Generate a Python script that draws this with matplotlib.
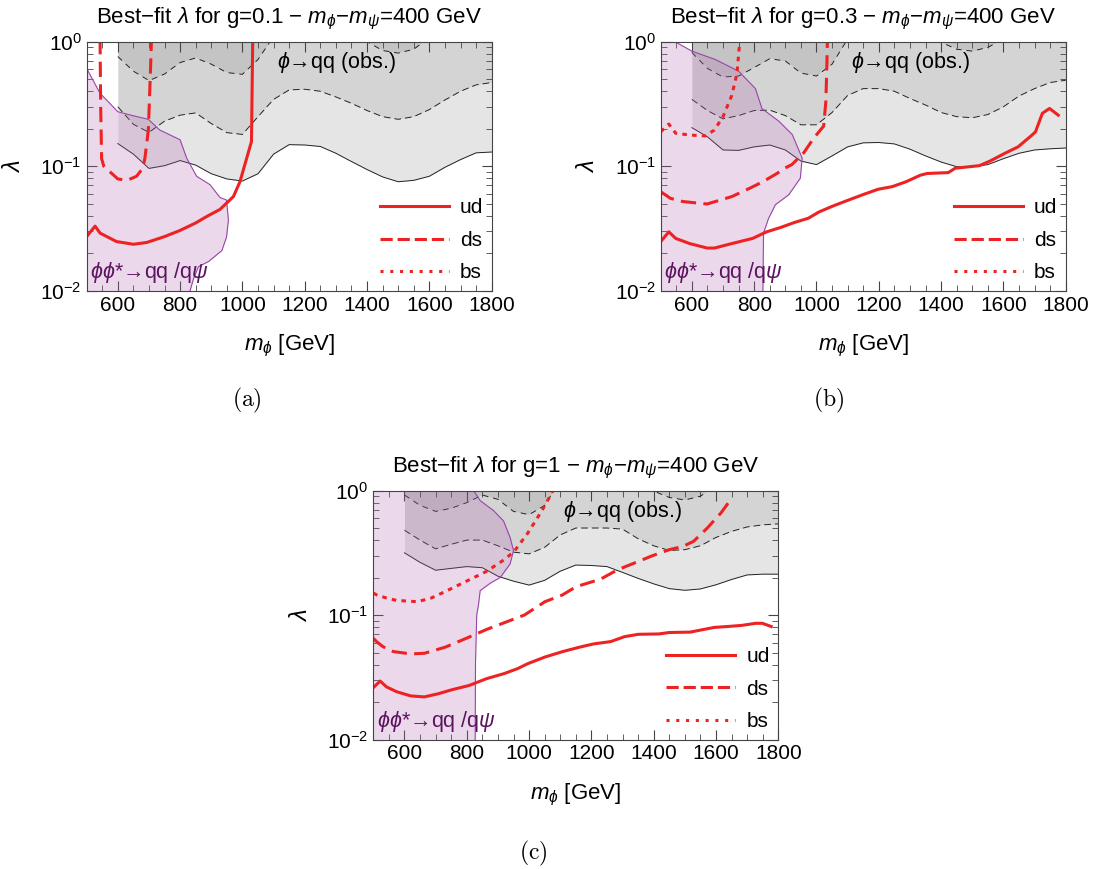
import matplotlib
matplotlib.use('Agg')
import matplotlib.pyplot as plt
from matplotlib.lines import Line2D
from matplotlib.ticker import MultipleLocator, LogLocator, NullFormatter
import numpy as np

plt.rcParams['font.family'] = ['Liberation Sans', 'DejaVu Sans']
plt.rcParams['mathtext.fontset'] = 'custom'
plt.rcParams['mathtext.rm'] = 'Liberation Sans'
plt.rcParams['mathtext.it'] = 'Liberation Sans:italic'
plt.rcParams['mathtext.bf'] = 'Liberation Sans:bold'

# --- observed phi->qq exclusion bands (x grid shared by all panels) ---
BAND_X = [600, 650, 700, 750, 800, 850, 900, 950, 1000, 1050, 1100, 1150, 1200,
          1250, 1300, 1350, 1400, 1450, 1500, 1550, 1600, 1650, 1700, 1750, 1800]

LOW_A = [.152, .125, .096, .101, .111, .102, .087, .079, .076, .087, .125, .149, .148,
         .144, .127, .109, .094, .082, .075, .077, .083, .098, .113, .128, .130]
MID_A = [.30, .217, .187, .23, .257, .268, .22, .186, .18, .25, .344, .41, .415,
         .40, .36, .32, .28, .25, .238, .25, .285, .34, .40, .45, .47]
UP_A = [.76, .58, .487, .55, .68, .74, .66, .565, .547, .72, 1.1, 1.5, 1.7,
        1.7, 1.5, 1.2, 1.0, .85, .81, .87, 1.08, 1.3, 1.5, 1.6, 1.6]

LOW_B = [.204, .172, .135, .134, .143, .148, .135, .11, .103, .121, .143, .154, .155,
         .151, .137, .121, .108, .099, .099, .103, .115, .127, .135, .138, .14]
MID_B = [.344, .28, .24, .255, .28, .282, .255, .215, .215, .27, .37, .42, .42,
         .40, .35, .31, .27, .25, .245, .26, .30, .366, .42, .47, .49]
UP_B = [.82, .61, .52, .53, .62, .73, .70, .56, .53, .66, 1.05, 1.5, 1.7,
        1.7, 1.5, 1.2, .99, .87, .84, .90, 1.05, 1.3, 1.5, 1.6, 1.6]

LOW_C = [.316, .265, .229, .237, .245, .24, .205, .187, .174, .19, .225, .252, .25,
         .245, .22, .197, .178, .163, .158, .162, .175, .193, .21, .213, .213]
MID_C = [.48, .40, .34, .37, .40, .40, .36, .32, .31, .35, .44, .50, .50,
         .50, .49, .41, .36, .33, .335, .36, .42, .47, .51, .53, .54]
UP_C = [.92, .76, .68, .72, .80, .92, .85, .68, .64, .76, 1.2, 1.6, 1.8,
        1.8, 1.6, 1.3, .99, .88, .84, .90, 1.1, 1.4, 1.6, 1.7, 1.7]

# --- pair-production exclusion (purple), boundary x as a function of lambda ---
PAIR_A_L = [.61, .385, .274, .258, .238, .195, .163, .116, .083, .071, .056, .0535,
            .037, .027, .021, .0172, .0156, .0125, .01]
PAIR_A_X = [500, 543, 600, 639, 698, 735, 800, 821, 853, 896, 928, 949,
            955, 949, 934, 892, 859, 843, 832]
PAIR_B_L = [1.05, 1.0, .84, .72, .58, .42, .29, .23, .18, .116, .08, .059, .049, .038, .029, .01]
PAIR_B_X = [546, 546, 600, 675, 750, 804, 825, 879, 922, 954, 948, 911, 868, 846, 830, 828]
PAIR_C_L = [1.05, 1.0, .83, .69, .57, .42, .33, .257, .20, .18, .157, .123, .10, .041, .01]
PAIR_C_X = [822, 822, 843, 886, 918, 939, 950, 939, 907, 875, 843, 838, 832, 828, 827]

# --- best-fit lambda curves ---
UD_A_X = [500, 527, 543, 596, 650, 693, 750, 800, 850, 885, 928, 971, 992, 1029, 1033]
UD_A_Y = [.0272, .033, .029, .0248, .0236, .0244, .0272, .0305, .035, .0394, .045,
          .057, .075, .158, 1.05]
DS_A_X = [543, 545, 548, 555, 575, 600, 630, 660, 680, 687, 698, 705, 708]
DS_A_Y = [1.05, .3, .115, .1, .09, .079, .077, .083, .096, .116, .195, .6, 1.05]

UD_B_X = [500, 526, 548, 593, 649, 672, 728, 795, 840, 885, 929, 974, 1008, 1053,
          1109, 1154, 1198, 1243, 1288, 1333, 1355, 1423, 1445, 1523, 1557, 1602,
          1647, 1692, 1703, 1725, 1748, 1776]
UD_B_Y = [.0248, .0297, .0263, .0239, .0220, .0220, .0239, .0263, .0297, .0322, .0353,
          .0382, .0429, .0479, .0542, .0597, .0653, .0685, .0751, .0846, .0874, .0888,
          .0963, .101, .110, .126, .143, .178, .189, .266, .291, .257]
DS_B_X = [500, 531, 571, 649, 728, 784, 829, 874, 900, 921, 959, 991, 1023, 1030, 1033, 1035]
DS_B_Y = [.0624, .0552, .052, .0497, .057, .0662, .0753, .0877, .097, .103, .128, .168,
          .21, .33, .6, 1.05]
BS_B_X = [500, 526, 548, 593, 643, 672, 700, 728, 745, 752, 754]
BS_B_Y = [.189, .218, .184, .178, .175, .195, .25, .37, .56, .9, 1.05]

UD_C_X = [500, 522, 542, 575, 620, 664, 708, 752, 808, 863, 919, 963, 996, 1051, 1107,
          1162, 1207, 1262, 1306, 1350, 1417, 1450, 1517, 1550, 1594, 1638, 1683, 1727,
          1749, 1777]
UD_C_Y = [.0261, .0295, .0265, .0242, .0224, .0220, .0233, .0251, .0272, .0308, .0338,
          .0371, .0407, .0460, .0508, .0552, .0586, .0612, .0670, .0700, .0705, .0724,
          .0729, .0757, .0795, .0809, .0826, .0858, .0858, .0809]
DS_C_X = [500, 511, 531, 564, 620, 664, 730, 797, 863, 930, 985, 1051, 1107, 1151, 1229,
          1284, 1350, 1395, 1450, 1494, 1528, 1572, 1616, 1640]
DS_C_Y = [.065, .061, .0557, .0509, .0487, .0493, .0551, .0648, .0765, .0886, .100, .128,
          .145, .169, .194, .231, .269, .299, .335, .356, .391, .500, .661, .80]
BS_C_X = [500, 511, 542, 575, 642, 686, 730, 797, 863, 919, 952, 996, 1040, 1073, 1080]
BS_C_Y = [.15, .145, .137, .131, .128, .137, .154, .186, .224, .277, .324, .456, .682,
          .957, 1.05]

PANELS = [
    ("0.1", [0.0790, 0.6655, 0.3692, 0.2865], (LOW_A, MID_A, UP_A), (PAIR_A_L, PAIR_A_X),
     [(UD_A_X, UD_A_Y, 'ud'), (DS_A_X, DS_A_Y, 'ds')], "(a)", (0.225, 0.5397)),
    ("0.3", [0.6023, 0.6655, 0.3692, 0.2865], (LOW_B, MID_B, UP_B), (PAIR_B_L, PAIR_B_X),
     [(UD_B_X, UD_B_Y, 'ud'), (DS_B_X, DS_B_Y, 'ds'), (BS_B_X, BS_B_Y, 'bs')], "(b)", (0.755, 0.5397)),
    ("1", [0.3403, 0.1490, 0.3692, 0.2865], (LOW_C, MID_C, UP_C), (PAIR_C_L, PAIR_C_X),
     [(UD_C_X, UD_C_Y, 'ud'), (DS_C_X, DS_C_Y, 'ds'), (BS_C_X, BS_C_Y, 'bs')], "(c)", (0.486, 0.0184)),
]

RED = '#ee2222'
STYLE = {'ud': '-', 'ds': (0, (5, 2.4)), 'bs': (0, (1.5, 1.7))}
LEG_STYLE = {'ud': '-', 'ds': (0, (4, 1.6)), 'bs': (0, (1, 2.2))}
MINUS = '\u2212'

fig = plt.figure(figsize=(10.97, 8.69), dpi=100)

for g, rect, bands, pair, curves, tag, tagpos in PANELS:
    ax = fig.add_axes(rect)
    low, mid, up = bands
    ax.fill_between(BAND_X, up, 20, color='#c4c4c4', lw=0, zorder=1)
    ax.fill_between(BAND_X, mid, up, color='#d4d4d4', lw=0, zorder=1)
    ax.fill_between(BAND_X, low, mid, color='#e5e5e5', lw=0, zorder=1)
    ax.plot(BAND_X, low, color='#222222', lw=0.7, zorder=2)
    ax.plot(BAND_X, mid, color='#222222', lw=0.7, ls=(0, (7, 4)), zorder=2)
    ax.plot(BAND_X, up, color='#222222', lw=0.7, ls=(0, (6, 5)), zorder=2)

    pl, px = pair
    ax.fill_betweenx(pl, 450, px, color=(0.7, 0.42, 0.7), alpha=0.25, lw=0, zorder=3)
    ax.plot(px, pl, color='#9944aa', lw=0.8, zorder=3)

    for cx, cy, name in curves:
        ax.plot(cx, cy, color=RED, lw=2.2, ls=STYLE[name], zorder=4)

    handles = [Line2D([], [], color=RED, lw=2.2, ls=LEG_STYLE[n]) for n in ('ud', 'ds', 'bs')]
    ax.legend(handles, ['ud', 'ds', 'bs'], loc='lower right', frameon=False, fontsize=15,
              handlelength=3.3, handletextpad=0.55, labelspacing=0.65,
              borderaxespad=0.1, borderpad=0.3)

    ax.text(1110, 0.675, r'$\phi$' + '\u2192qq (obs.)', fontsize=15.5, va='center',
            ha='left', zorder=5)
    ax.text(512, 0.0139, r'$\phi\phi$' + '*\u2192qq /q' + r'$\psi$', fontsize=15.5,
            color='#5c1460', va='center', ha='left', zorder=5)

    ax.set_xlim(500, 1800)
    ax.set_yscale('log')
    ax.set_ylim(0.01, 1)
    ax.xaxis.set_major_locator(MultipleLocator(200))
    ax.xaxis.set_minor_locator(MultipleLocator(50))
    ax.yaxis.set_major_locator(LogLocator(base=10, numticks=5))
    ax.yaxis.set_minor_locator(LogLocator(base=10, subs=np.arange(2, 10), numticks=20))
    ax.yaxis.set_minor_formatter(NullFormatter())
    ax.tick_params(which='both', direction='in', top=True, right=True, labelsize=15,
                   color='#444444')
    ax.tick_params(which='major', length=7)
    ax.tick_params(which='minor', length=4)
    for s in ax.spines.values():
        s.set_color('#444444')
        s.set_zorder(6)

    ax.set_xlabel(r'$m_{\phi}$ [GeV]', fontsize=16, labelpad=13)
    ax.set_ylabel(r'$\lambda$', fontsize=17, labelpad=11)
    title = ('Best' + MINUS + r'fit $\lambda$ for g=' + g + ' ' + MINUS + ' '
             + r'$m_{\phi}$' + MINUS + r'$m_{\psi}$' + '=400 GeV')
    ax.set_title(title, fontsize=16, pad=13)

    fig.text(tagpos[0], tagpos[1], r'$\mathrm{' + tag + '}$', math_fontfamily='cm',
             fontsize=17, ha='center', va='center')

fig.savefig('out.png', dpi=100)
